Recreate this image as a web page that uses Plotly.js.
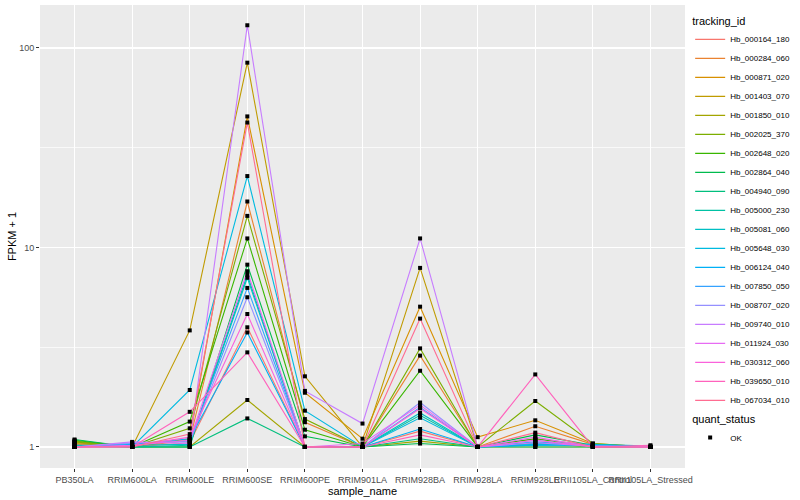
<!DOCTYPE html>
<html>
<head>
<meta charset="utf-8">
<script src="https://cdn.plot.ly/plotly-3.0.1.min.js"></script>
<style>html,body{margin:0;padding:0;background:#fff;}#chart{width:800px;height:500px;}</style>
</head>
<body>
<div id="chart"></div>
<script>
// Categories (x axis)
const samples = ["PB350LA","RRIM600LA","RRIM600LE","RRIM600SE","RRIM600PE","RRIM901LA","RRIM928BA","RRIM928LA","RRIM928LE","RRII105LA_Control","RRII105LA_Stressed"];

// Series ids (legend)
const trackingIds = ["Hb_000164_180","Hb_000284_060","Hb_000871_020","Hb_001403_070","Hb_001850_010","Hb_002025_370","Hb_002648_020","Hb_002864_040","Hb_004940_090","Hb_005000_230","Hb_005081_060","Hb_005648_030","Hb_006124_040","Hb_007850_050","Hb_008707_020","Hb_009740_010","Hb_011924_030","Hb_030312_060","Hb_039650_010","Hb_067034_010"];

// FPKM + 1 values per series, in sample order
const Hb_000164_180 = [1.03,1.00,1.05,3.98,1.00,1.00,1.20,1.00,1.10,1.02,1.00];
const Hb_000284_060 = [1.05,1.00,1.08,17.0,1.33,1.00,2.87,1.00,1.27,1.03,1.00];
const Hb_000871_020 = [1.06,1.00,1.10,45.4,1.87,1.10,5.05,1.12,1.36,1.04,1.00];
const Hb_001403_070 = [1.04,1.00,3.84,84.4,2.26,1.00,7.90,1.00,1.00,1.00,1.00];
const Hb_001850_010 = [1.07,1.00,1.00,1.72,1.00,1.00,1.07,1.00,1.05,1.00,1.00];
const Hb_002025_370 = [1.06,1.00,1.24,14.4,1.38,1.00,3.12,1.00,1.70,1.04,1.00];
const Hb_002648_020 = [1.08,1.00,1.34,11.1,1.22,1.00,2.41,1.00,1.10,1.00,1.00];
const Hb_002864_040 = [1.09,1.00,1.00,8.20,1.13,1.00,1.04,1.00,1.15,1.02,1.00];
const Hb_004940_090 = [1.02,1.00,1.00,1.39,1.00,1.00,1.10,1.00,1.00,1.00,1.00];
const Hb_005000_230 = [1.01,1.00,1.02,7.30,1.00,1.00,1.44,1.00,1.02,1.03,1.00];
const Hb_005081_060 = [1.02,1.02,1.03,7.05,1.00,1.00,1.48,1.00,1.04,1.03,1.01];
const Hb_005648_030 = [1.00,1.00,1.93,22.8,1.52,1.00,1.40,1.00,1.03,1.02,1.00];
const Hb_006124_040 = [1.00,1.03,1.10,3.75,1.00,1.00,1.23,1.00,1.02,1.02,1.00];
const Hb_007850_050 = [1.00,1.04,1.07,6.27,1.00,1.00,1.58,1.00,1.06,1.02,1.00];
const Hb_008707_020 = [1.00,1.05,1.06,5.63,1.00,1.00,1.67,1.00,1.08,1.01,1.00];
const Hb_009740_010 = [1.00,1.06,1.04,130.0,1.91,1.31,11.1,1.00,1.05,1.01,1.00];
const Hb_011924_030 = [1.00,1.02,1.08,7.60,1.00,1.04,1.62,1.00,1.12,1.00,1.00];
const Hb_030312_060 = [1.00,1.01,1.12,4.64,1.00,1.00,1.56,1.00,1.08,1.00,1.00];
const Hb_039650_010 = [1.00,1.00,1.50,2.98,1.00,1.00,1.15,1.00,2.31,1.00,1.02];
const Hb_067034_010 = [1.00,1.00,1.16,42.3,1.00,1.00,4.40,1.00,1.18,1.00,1.00];

const seriesValues = [Hb_000164_180,Hb_000284_060,Hb_000871_020,Hb_001403_070,Hb_001850_010,Hb_002025_370,Hb_002648_020,Hb_002864_040,Hb_004940_090,Hb_005000_230,Hb_005081_060,Hb_005648_030,Hb_006124_040,Hb_007850_050,Hb_008707_020,Hb_009740_010,Hb_011924_030,Hb_030312_060,Hb_039650_010,Hb_067034_010];

// ggplot2 hue palette, 20 colours
const colors = ["#F8766D","#EA8331","#D89000","#C09B00","#A3A500","#7CAE00","#39B600","#00BB4E","#00BF7D","#00C1A3","#00BFC4","#00BAE0","#00B0F6","#35A2FF","#9590FF","#C77CFF","#E76BF3","#FA62DB","#FF62BC","#FF6C91"];

const yTicks = [1, 10, 100];
const yTickText = ["1", "10", "100"];
const yMinor = [3.1623, 31.623];
const quantStatus = "OK";

const traces = [];
trackingIds.forEach((id, i) => {
  traces.push({
    type: "scatter", mode: "lines", name: id,
    x: samples, y: seriesValues[i],
    line: {color: colors[i], width: 1.1},
    legend: "legend", hoverinfo: "x+y+name"
  });
});
// points (quant_status)
const px = [], py = [];
seriesValues.forEach(vals => vals.forEach((v, j) => { px.push(samples[j]); py.push(v); }));
traces.push({
  type: "scatter", mode: "markers", name: quantStatus,
  x: px, y: py,
  marker: {color: "#000", symbol: "square", size: 4},
  legend: "legend2"
});

const axisFont = {family: "Liberation Sans, Arial, sans-serif", size: 9, color: "#4D4D4D"};
const layout = {
  width: 800, height: 500,
  margin: {l: 40, r: 112, t: 5, b: 32},
  paper_bgcolor: "#ffffff",
  plot_bgcolor: "#EBEBEB",
  font: {family: "Liberation Sans, Arial, sans-serif", size: 10, color: "#000"},
  showlegend: true,
  xaxis: {
    type: "category", range: [-0.6, 10.6],
    showgrid: true, gridcolor: "#ffffff", gridwidth: 1.1,
    zeroline: false, showline: false,
    ticks: "outside", ticklen: 3, tickcolor: "#333333", tickwidth: 1,
    tickfont: axisFont, tickangle: 0,
    title: {text: "sample_name", font: {size: 11, color: "#000"}, standoff: 1}
  },
  yaxis: {
    type: "log", range: [-0.1055, 2.2155],
    tickmode: "array", tickvals: yTicks, ticktext: yTickText,
    showgrid: true, gridcolor: "#ffffff", gridwidth: 1.1,
    minor: {tickmode: "array", tickvals: yMinor, showgrid: true, gridcolor: "#ffffff", gridwidth: 0.7, ticks: ""},
    zeroline: false, showline: false,
    ticks: "outside", ticklen: 3, tickcolor: "#333333", tickwidth: 1,
    tickfont: axisFont,
    title: {text: "FPKM + 1", font: {size: 11, color: "#000"}, standoff: 0}
  },
  legend: {
    x: 1.008, xanchor: "left", y: 0.988, yanchor: "top",
    title: {text: "tracking_id", font: {size: 11}},
    font: {size: 8}, bgcolor: "rgba(0,0,0,0)",
    itemwidth: 30, tracegroupgap: 0
  },
  legend2: {
    x: 1.008, xanchor: "left", y: 0.128, yanchor: "top",
    title: {text: "quant_status", font: {size: 11}},
    font: {size: 8}, bgcolor: "rgba(0,0,0,0)", itemwidth: 30
  }
};

Plotly.newPlot("chart", traces, layout, {displayModeBar: false, staticPlot: true});
</script>
</body>
</html>
